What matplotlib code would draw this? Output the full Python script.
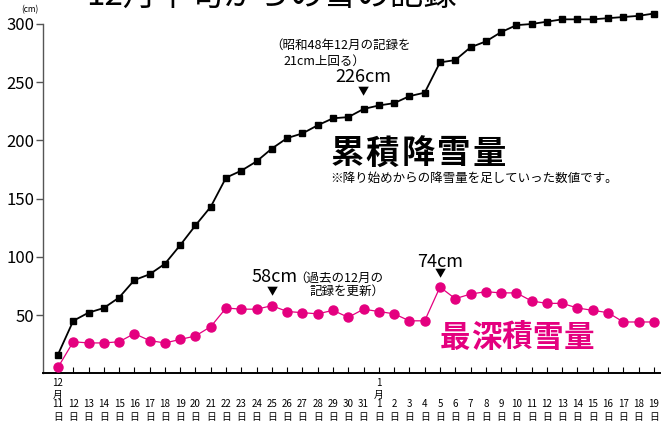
import matplotlib.pyplot as plt
import numpy as np

plt.rcParams['font.family'] = ['Noto Sans CJK JP', 'DejaVu Sans']

# dates: Dec 11 .. Dec 31, Jan 1 .. Jan 19
days = list(range(11, 32)) + list(range(1, 20))
months = [12] * 21 + [1] * 19

# cumulative snowfall (cm)
cumulative = [16, 45, 52, 56, 65, 80, 85, 94, 110, 127, 143, 168, 174, 182, 193,
              202, 206, 213, 219, 220, 227, 230, 232, 238, 241, 267, 269, 280, 285, 293,
              299, 300, 302, 304, 304, 304, 305, 306, 307, 309]

# max snow depth (cm)
depth = [5, 27, 26, 26, 27, 34, 28, 26, 29, 32, 40, 56, 55, 55, 58,
         53, 52, 51, 54, 48, 55, 53, 51, 45, 45, 74, 64, 68, 70, 69,
         69, 62, 60, 60, 56, 54, 52, 44, 44, 44]

pink = '#e4007f'
W, H = 670, 422

def px(x, y):
    return x / W, 1 - y / H

# text with wide letter spacing (pitch in pixels)
def spaced(fig, x0, y, s, pitch, **kw):
    for k, ch in enumerate(s):
        fig.text(*px(x0 + k * pitch, y), ch, ha='center', va='center', **kw)

fig = plt.figure(figsize=(6.7, 4.22), dpi=100)
ax = fig.add_axes([43 / W, 1 - 373.2 / H, (660 - 43) / W, (373.2 - 24) / H])

x = np.arange(len(days))
ax.plot(x, cumulative, color='black', lw=1.3, marker='s', ms=4.5, clip_on=False, zorder=3)
ax.plot(x, depth, color=pink, lw=0.9, marker='o', ms=6.5, clip_on=False, zorder=3)

ax.set_xlim(-0.98, 39.4)
ax.set_ylim(0, 300)

for s in ['top', 'right']:
    ax.spines[s].set_visible(False)
ax.spines['left'].set_color('#555555')
ax.spines['left'].set_linewidth(1.0)
ax.spines['bottom'].set_color('black')
ax.spines['bottom'].set_linewidth(1.4)

ax.set_yticks([50, 100, 150, 200, 250, 300])
ax.tick_params(axis='y', direction='out', length=5, width=1, color='#555555',
               labelsize=12, pad=1)
ax.set_xticks(x)
ax.set_xticklabels([])
ax.tick_params(axis='x', direction='in', length=4, width=0.8, color='black')

# x labels: day number and 日, month on first day of each month
for i, (d, m) in enumerate(zip(days, months)):
    ax.annotate(str(d), (i, 0), xycoords=('data', 'axes fraction'),
                xytext=(0, -22.5), textcoords='offset points',
                ha='center', va='center', fontsize=7)
    ax.annotate('日', (i, 0), xycoords=('data', 'axes fraction'),
                xytext=(0, -31.5), textcoords='offset points',
                ha='center', va='center', fontsize=7)
    if i == 0 or months[i - 1] != m:
        ax.annotate(f'{m}\n月', (i, 0), xycoords=('data', 'axes fraction'),
                    xytext=(0, -11.5), textcoords='offset points',
                    ha='center', va='center', fontsize=7, linespacing=1.3)

fig.text(*px(30, 10), '(cm)', fontsize=6, ha='center', va='center')

# title (cut at the top edge, as in the source)
fig.text(*px(271, -5), '12月中旬からの雪の記録', fontsize=24, ha='center', va='center')

# peak annotations
def peak(i, val, label, dy_tri, dy_txt, dx_txt=0):
    ax.annotate('▼', (i, val), xytext=(0, dy_tri), textcoords='offset points',
                ha='center', va='center', fontsize=8)
    ax.annotate(label, (i, val), xytext=(dx_txt, dy_txt), textcoords='offset points',
                ha='center', va='center', fontsize=13)

peak(20, cumulative[20], '226cm', 12, 23)
peak(14, depth[14], '58cm', 9.5, 21, 2)
peak(25, depth[25], '74cm', 9, 18)

small = dict(fontsize=9, ha='left', va='center')
fig.text(*px(270, 45), '（昭和48年12月の記録を', **small)
fig.text(*px(283, 61), '21cm上回る）', **small)
fig.text(*px(294, 278), '（過去の12月の', **small)
fig.text(*px(310, 291), '記録を更新）', **small)

ax.annotate('309cm', (39, cumulative[39]), xytext=(-23, -17), textcoords='offset points',
            ha='center', va='center', fontsize=13,
            arrowprops=dict(arrowstyle='-|>', color='black', lw=0.8,
                            mutation_scale=8, shrinkA=9, shrinkB=3))

spaced(fig, 347, 154, '累積降雪量', 35.5, fontsize=24, fontweight='bold')
fig.text(*px(330, 178), '※降り始めからの降雪量を足していった数値です。', fontsize=9,
         ha='left', va='center')
spaced(fig, 455, 338, '最深積雪量', 31, fontsize=22, fontweight='bold', color=pink)

fig.savefig('out.png', dpi=100)
